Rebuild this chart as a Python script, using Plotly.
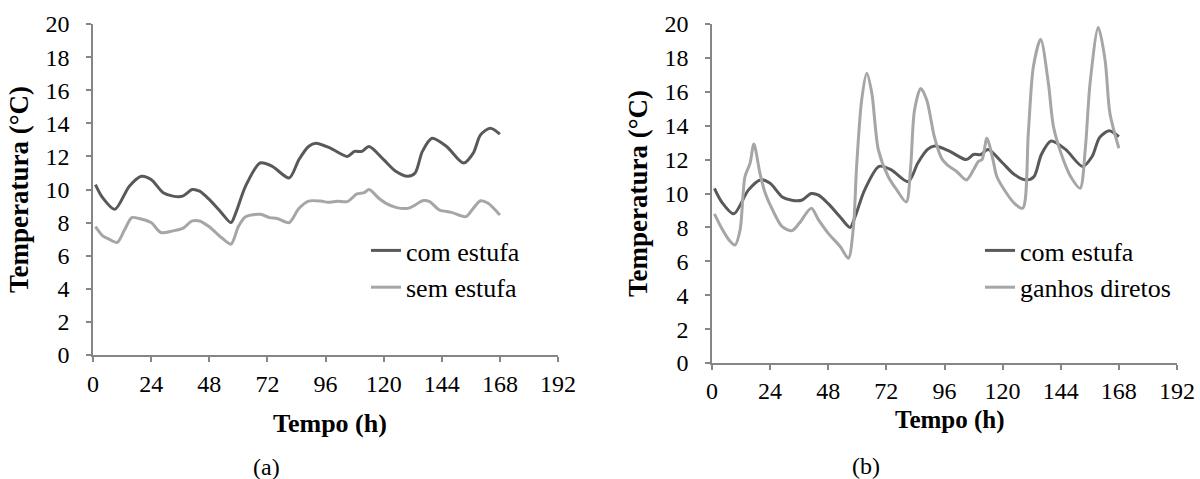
import plotly.graph_objects as go

# ---------------- data ----------------
com_h = [1, 4, 9, 15, 20, 24, 29, 33, 37, 41, 44, 48, 53, 57, 59, 63, 69, 74, 81, 85,
         89, 92, 98, 105, 108, 111, 114, 120, 125, 130, 133, 136, 140, 146, 153, 157, 160, 164, 168]
com_v = [10.3, 9.5, 8.8, 10.2, 10.8, 10.6, 9.8, 9.6, 9.6, 10.0, 9.9, 9.4, 8.6, 8.0, 8.6, 10.2, 11.6, 11.4, 10.7, 11.8,
         12.6, 12.8, 12.5, 12.0, 12.3, 12.3, 12.6, 11.8, 11.1, 10.8, 11.0, 12.3, 13.1, 12.6, 11.6, 12.2, 13.3, 13.7, 13.35]

sem_h = [1, 4, 6, 10, 13, 16, 19, 24, 28, 33, 37, 41, 44, 48, 53, 57, 60, 63, 69, 73, 76, 81, 85,
         89, 94, 97, 101, 105, 109, 112, 114, 118, 121, 125, 130, 133, 136, 139, 143, 148, 154, 157, 160, 163, 168]
sem_v = [7.75, 7.2, 7.05, 6.8, 7.55, 8.3, 8.25, 8.0, 7.4, 7.5, 7.65, 8.1, 8.1, 7.75, 7.1, 6.7, 7.75, 8.35, 8.5, 8.3, 8.25, 8.0, 8.85,
         9.3, 9.3, 9.23, 9.29, 9.27, 9.73, 9.81, 10.0, 9.47, 9.16, 8.92, 8.86, 9.06, 9.32, 9.27, 8.76, 8.62, 8.36, 8.86, 9.32, 9.18, 8.46]

gd_h = [1, 4, 7, 9.5, 11.6, 13.6, 15.7, 17.3, 19.8, 22, 25, 29, 33, 36, 41, 44, 48, 53, 56.3, 58.4,
        59.7, 61.8, 63.9, 66, 68.7, 72.8, 76.3, 80.2, 82, 83.6, 86.2, 88.7, 91.8, 94.8, 97, 101, 105, 108, 110, 111.5,
        113.5, 116, 117.6, 121.7, 125, 128.3, 130.6, 132.7, 135.7, 138.9, 141, 145.1, 148.5, 152, 154.1, 156.1, 159.5,
        162.3, 164.3, 168]
gd_v = [8.8, 7.95, 7.26, 6.96, 7.85, 10.99, 11.78, 12.92, 11.19, 10.01, 9.03, 8.04, 7.81, 8.24, 9.13, 8.44, 7.65, 6.86, 6.18, 8.04,
        11.58, 15.52, 17.09, 15.91, 12.57, 10.99, 10.21, 9.5, 11.5, 14.9, 16.2, 15.5, 13.35, 12.08, 11.7, 11.3, 10.8, 11.4, 11.9, 12.0,
        13.26, 12.0, 11.0, 10.0, 9.4, 9.13, 13.55, 17.48, 19.1, 16.5, 13.94, 11.98, 10.9, 10.31, 12.57, 16.5, 19.8,
        17.88, 14.73, 12.67]

x_ticks = [0, 24, 48, 72, 96, 120, 144, 168, 192]
y_ticks = [0, 2, 4, 6, 8, 10, 12, 14, 16, 18, 20]

name_com = "com estufa"
name_sem = "sem estufa"
name_gd = "ganhos diretos"
x_title = "Tempo (h)"
y_title = "Temperatura (°C)"
panel_labels = ["(a)", "(b)"]

DARK = "#595959"
LIGHT = "#a6a6a6"
AXIS = "#868686"
FONT = "Times New Roman"
W, H = 1200, 479

fig = go.Figure()
fig.add_trace(go.Scatter(x=com_h, y=com_v, name=name_com, mode="lines",
                         line=dict(color=DARK, width=3, shape="spline", smoothing=0.8),
                         xaxis="x", yaxis="y", legend="legend"))
fig.add_trace(go.Scatter(x=sem_h, y=sem_v, name=name_sem, mode="lines",
                         line=dict(color=LIGHT, width=3, shape="spline", smoothing=0.8),
                         xaxis="x", yaxis="y", legend="legend"))
fig.add_trace(go.Scatter(x=com_h, y=com_v, name=name_com, mode="lines",
                         line=dict(color=DARK, width=3, shape="spline", smoothing=0.8),
                         xaxis="x2", yaxis="y2", legend="legend2"))
fig.add_trace(go.Scatter(x=gd_h, y=gd_v, name=name_gd, mode="lines",
                         line=dict(color=LIGHT, width=3, shape="spline", smoothing=0.8),
                         xaxis="x2", yaxis="y2", legend="legend2"))


def xaxis_cfg(dom, anchor, standoff_lbl):
    return dict(domain=dom, anchor=anchor, range=[0, 192], tickmode="array", tickvals=x_ticks,
                ticktext=[str(t) for t in x_ticks], ticks="outside", ticklen=5, tickwidth=1.5,
                tickcolor=AXIS, showline=True, linecolor=AXIS, linewidth=1.5, showgrid=False,
                zeroline=False, ticklabelstandoff=standoff_lbl, automargin=False,
                tickfont=dict(family=FONT, size=24, color="black"),
                fixedrange=True)


def yaxis_cfg(dom, anchor, title_standoff):
    return dict(domain=dom, anchor=anchor, range=[0, 20], tickmode="array", tickvals=y_ticks,
                ticktext=[str(t) for t in y_ticks], ticks="outside", ticklen=5, tickwidth=1.5,
                tickcolor=AXIS, showline=True, linecolor=AXIS, linewidth=1.5, showgrid=False,
                zeroline=False, ticklabelstandoff=12, automargin=False,
                tickfont=dict(family=FONT, size=24, color="black"),
                title=dict(text="<b>" + y_title + "</b>", standoff=title_standoff,
                           font=dict(family=FONT, size=27, color="black")),
                fixedrange=True)


def minor_cfg(overlay, anchor):
    return dict(overlaying=overlay, anchor=anchor, range=[0, 192], tickmode="linear", tick0=0, dtick=12,
                ticks="inside", ticklen=6, tickwidth=1.5, tickcolor=AXIS, showticklabels=False,
                showline=False, showgrid=False, zeroline=False, fixedrange=True, automargin=False)


xd1 = [93 / W, 558 / W]
yd1 = [1 - 355 / H, 1 - 24 / H]
xd2 = [712 / W, 1177 / W]
yd2 = [1 - 363 / H, 1 - 24 / H]

legend_font = dict(family=FONT, size=26, color="black")


def text_ann(text, cx, cy, size, bold=False):
    return dict(text=("<b>" + text + "</b>") if bold else text, x=cx / W, y=1 - cy / H,
                xref="paper", yref="paper", showarrow=False,
                font=dict(family=FONT, size=size, color="black"), xanchor="center", yanchor="middle")


fig.update_layout(
    width=W, height=H,
    margin=dict(l=0, r=0, t=0, b=0, autoexpand=False),
    paper_bgcolor="white", plot_bgcolor="white",
    font=dict(family=FONT, color="black"),
    xaxis=xaxis_cfg(xd1, "y", 1),
    yaxis=yaxis_cfg(yd1, "x", 9),
    xaxis2=xaxis_cfg(xd2, "y2", 0),
    yaxis2=yaxis_cfg(yd2, "x2", 9),
    xaxis3=minor_cfg("x", "y"),
    xaxis4=minor_cfg("x2", "y2"),
    legend=dict(x=366 / W, y=1 - 227 / H, xanchor="left", yanchor="top", font=legend_font,
                bgcolor="rgba(0,0,0,0)", borderwidth=0),
    legend2=dict(x=980 / W, y=1 - 227 / H, xanchor="left", yanchor="top", font=legend_font,
                 bgcolor="rgba(0,0,0,0)", borderwidth=0),
    annotations=[
        text_ann(x_title, 330, 423, 26, bold=True),
        text_ann(x_title, 950, 420, 25, bold=True),
        text_ann(panel_labels[0], 266, 467, 24),
        text_ann(panel_labels[1], 866, 466, 24),
    ],
)

fig.write_html("out.html")
